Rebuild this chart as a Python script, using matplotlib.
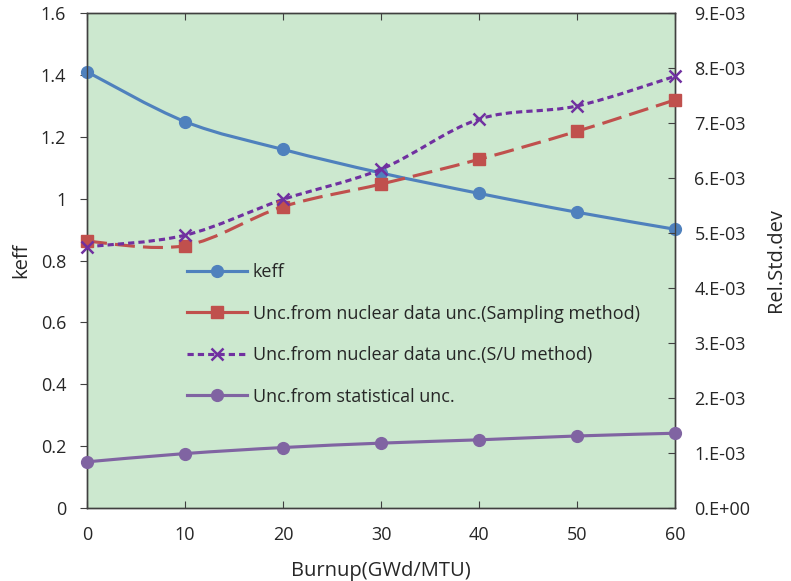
import numpy as np
import matplotlib
matplotlib.use("Agg")
import matplotlib.pyplot as plt
from matplotlib.path import Path
from matplotlib.patches import PathPatch
from matplotlib.lines import Line2D

plt.rcParams['font.family'] = ['Open Sans', 'DejaVu Sans']

# --- data ---
burnup = [0, 10, 20, 30, 40, 50, 60]
keff = [1.410, 1.249, 1.159, 1.083, 1.017, 0.956, 0.901]
unc_sampling = [4.85e-3, 4.77e-3, 5.48e-3, 5.89e-3, 6.34e-3, 6.85e-3, 7.42e-3]
unc_su = [4.75e-3, 4.96e-3, 5.61e-3, 6.16e-3, 7.07e-3, 7.31e-3, 7.85e-3]
unc_stat = [0.84e-3, 0.99e-3, 1.10e-3, 1.18e-3, 1.24e-3, 1.31e-3, 1.36e-3]

labels = ['keff',
          'Unc.from nuclear data unc.(Sampling method)',
          'Unc.from nuclear data unc.(S/U method)',
          'Unc.from statistical unc.']

c_keff = '#4F81BD'
c_samp = '#C0504D'
c_su = '#7030A0'
c_stat = '#8064A2'
txt = '#262626'
bg = '#CCE8CF'


def smooth_path(x, y):
    # Excel-style smoothed line: cubic Bezier segments through the points
    p = np.column_stack([x, y]).astype(float)
    verts = [p[0]]
    codes = [Path.MOVETO]
    n = len(p)
    for i in range(n - 1):
        p0 = p[i - 1] if i > 0 else p[i]
        p3 = p[i + 2] if i + 2 < n else p[i + 1]
        c1 = p[i] + (p[i + 1] - p0) / 6.0
        c2 = p[i + 1] - (p3 - p[i]) / 6.0
        verts += [c1, c2, p[i + 1]]
        codes += [Path.CURVE4] * 3
    return Path(verts, codes)


def draw(ax, x, y, color, marker, ms, ls, mew=1.0):
    ax.add_patch(PathPatch(smooth_path(x, y), fill=False, edgecolor=color,
                           lw=2.25, linestyle=ls, capstyle='butt', zorder=3))
    ax.plot(x, y, linestyle='none', marker=marker, ms=ms, color=color,
            mec=color, mew=mew, zorder=4, clip_on=False)


fig = plt.figure(figsize=(7.91, 5.81), dpi=100)
ax = fig.add_axes([0.110, 0.1256, 0.7434, 0.852])
ax.set_facecolor(bg)
ax2 = ax.twinx()

draw(ax, burnup, keff, c_keff, 'o', 8.5, '-')
draw(ax2, burnup, unc_sampling, c_samp, 's', 8.5, (0, (6.4, 2.6)))
draw(ax2, burnup, unc_su, c_su, 'x', 8, (0, (2.0, 1.3)), mew=1.8)
draw(ax2, burnup, unc_stat, c_stat, 'o', 8.5, '-')

ax.set_xlim(0, 60)
ax.set_ylim(0, 1.6)
ax2.set_ylim(0, 9e-3)
ax.set_xticks(burnup)
ax.set_yticks(np.arange(0, 1.61, 0.2))
ax.set_yticklabels(['0', '0.2', '0.4', '0.6', '0.8', '1', '1.2', '1.4', '1.6'])
r_ticks = np.arange(0, 9.5e-3, 1e-3)
ax2.set_yticks(r_ticks)
ax2.set_yticklabels(['0.E+00'] + ['%d.E-03' % i for i in range(1, 10)])

for sp in list(ax.spines.values()) + list(ax2.spines.values()):
    sp.set_color('#404040')
    sp.set_linewidth(1.0)

ax.tick_params(axis='x', direction='in', top=True, length=5, pad=13,
               labelsize=13, labelcolor=txt, color='#404040')
ax.tick_params(axis='y', direction='out', length=5, pad=10,
               labelsize=13, labelcolor=txt, color='#404040')
ax2.tick_params(axis='y', direction='in', length=5, pad=14,
                labelsize=13, labelcolor=txt, color='#404040')

ax.set_xlabel('Burnup(GWd/MTU)', fontsize=14.5, color=txt, labelpad=12)
ax.set_ylabel('keff', fontsize=14.5, color=txt, labelpad=7)
ax2.set_ylabel('Rel.Std.dev', fontsize=14.5, color=txt, labelpad=11)

handles = [
    Line2D([], [], color=c_keff, lw=2.25, marker='o', ms=8.5),
    Line2D([], [], color=c_samp, lw=2.25, marker='s', ms=8.5),
    Line2D([], [], color=c_su, lw=2.25, ls=(0, (2.0, 1.3)), marker='x',
           ms=8, mew=1.8),
    Line2D([], [], color=c_stat, lw=2.25, marker='o', ms=8.5),
]
leg = ax2.legend(handles, labels, loc='center left',
                 bbox_to_anchor=(0.2364, 1 - 334.5 / 581),
                 bbox_transform=fig.transFigure, frameon=False,
                 fontsize=13, labelspacing=1.3, handlelength=3.3,
                 handletextpad=0.33, borderpad=0, borderaxespad=0)
for t in leg.get_texts():
    t.set_color(txt)

fig.savefig('out.png', dpi=100)
